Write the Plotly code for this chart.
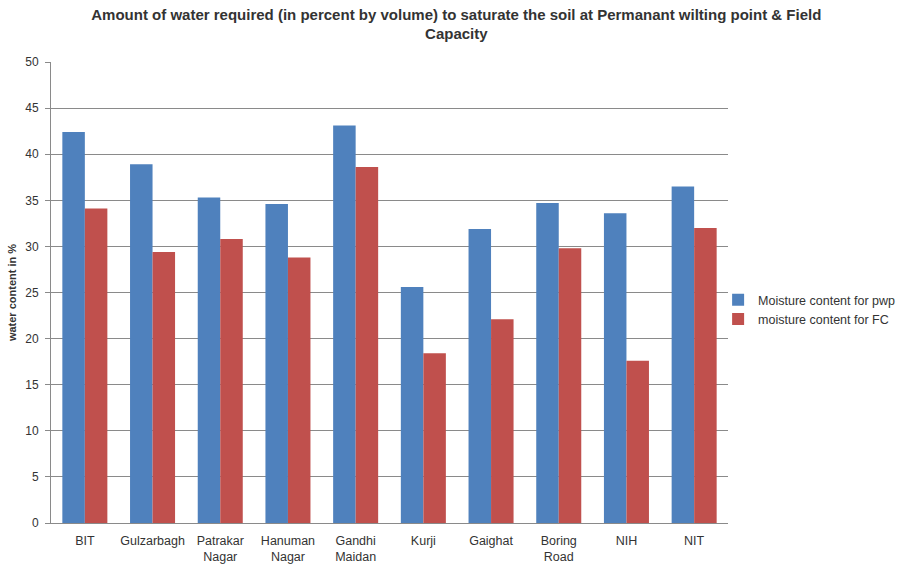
import plotly.graph_objects as go

categories = ["BIT", "Gulzarbagh", "Patrakar<br>Nagar", "Hanuman<br>Nagar", "Gandhi<br>Maidan",
              "Kurji", "Gaighat", "Boring<br>Road", "NIH", "NIT"]
pwp_values = [42.4, 38.9, 35.3, 34.6, 43.1, 25.6, 31.9, 34.7, 33.6, 36.5]
fc_values = [34.1, 29.4, 30.8, 28.8, 38.6, 18.4, 22.1, 29.8, 17.6, 32.0]
y_ticks = [0, 5, 10, 15, 20, 25, 30, 35, 40, 45, 50]

FONT = "Liberation Sans"

fig = go.Figure()
fig.add_trace(go.Bar(x=categories, y=pwp_values, name="Moisture content for pwp",
                     marker=dict(color="#4F81BD", line=dict(width=0))))
fig.add_trace(go.Bar(x=categories, y=fc_values, name="moisture content for FC",
                     marker=dict(color="#C0504D", line=dict(width=0))))

fig.update_layout(
    width=909, height=565,
    margin=dict(l=51, r=181, t=62, b=42, autoexpand=False),
    paper_bgcolor="white", plot_bgcolor="white",
    barmode="group", bargap=0.335, bargroupgap=0,
    font=dict(family=FONT, size=12, color="#333333"),
    title=dict(
        text="<b>Amount of water required (in percent by volume) to saturate the soil at Permanant wilting point &amp; Field<br>Capacity</b>",
        x=0.502, xanchor="center", yref="container", y=0.965, yanchor="top",
        font=dict(family=FONT, size=15, color="#333333"),
    ),
    legend=dict(xref="container", yref="container", x=0.79, y=0.452,
                xanchor="left", yanchor="middle",
                font=dict(family=FONT, size=12.5, color="#333333"),
                bgcolor="rgba(0,0,0,0)", itemwidth=30, tracegroupgap=0),
    showlegend=True,
)
fig.update_yaxes(
    range=[0, 50], tickvals=y_ticks, showgrid=True, gridcolor="#8a8a8a", gridwidth=1,
    showline=True, linecolor="#8a8a8a", linewidth=1, ticks="outside", ticklen=5,
    tickcolor="#8a8a8a", zeroline=False, automargin=False, ticklabelstandoff=4,
    tickfont=dict(family=FONT, size=12, color="#333333"),
    title=dict(text="<b>water content in %</b>", font=dict(family=FONT, size=11, color="#333333"), standoff=6),
)
fig.update_xaxes(
    showline=True, linecolor="#8a8a8a", linewidth=1, ticks="", showgrid=False, automargin=False,
    ticklabelstandoff=6,
    tickfont=dict(family=FONT, size=12.5, color="#333333"),
)

fig.write_html("out.html", config={"displayModeBar": False},
               post_script="document.body.style.margin='0';")
